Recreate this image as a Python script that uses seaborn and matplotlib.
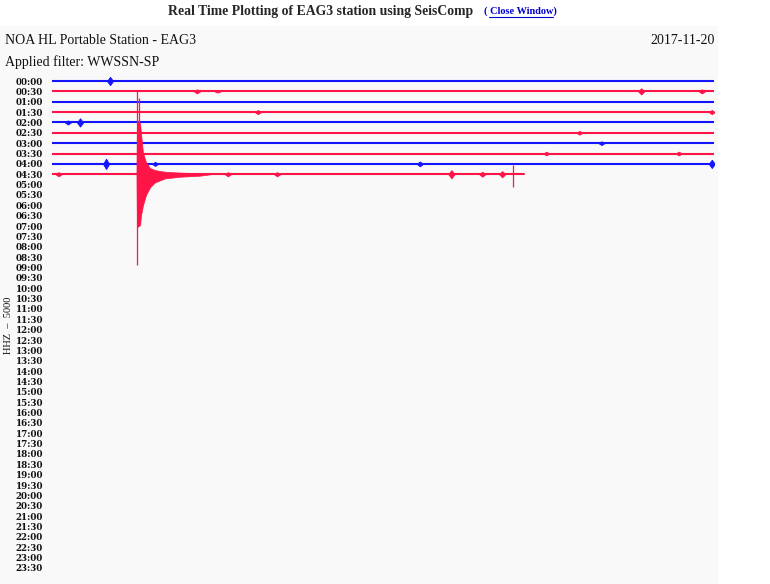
import numpy as np
import pandas as pd
import matplotlib
matplotlib.use("Agg")
import matplotlib.pyplot as plt
from matplotlib.patches import Rectangle
from matplotlib.lines import Line2D
import seaborn as sns

# ---------------- data ----------------
COUNTS_PER_ROW = 5000          # "HHZ - 5000": counts per trace spacing
ROW_MINUTES = 30
row_labels = [f"{h:02d}:{m:02d}" for h in range(24) for m in (0, 30)]

# recorded rows (index into row_labels) with start/end minute of data
trace_rows = [0, 1, 2, 3, 4, 5, 6, 7, 8, 9]
trace_start = [0, 0, 0, 0, 0, 0, 0, 0, 0, 0]
trace_end = [30, 30, 30, 30, 30, 30, 30, 30, 30, 21.4]

# small bursts: row, minute, half amplitude (counts)
burst_row = [0, 1, 1, 1, 1, 3, 3, 4, 4, 5, 6, 7, 7,
             8, 8, 8, 8, 9, 9, 9, 9, 9, 9]
burst_min = [2.63, 6.57, 7.5, 26.7, 29.45, 9.33, 29.9, 0.72, 1.27, 23.9, 24.9, 22.4, 28.4,
             2.45, 4.67, 16.67, 29.9, 0.3, 7.97, 10.2, 18.1, 19.5, 20.4]
burst_amp = [2000, 1000, 600, 1500, 1000, 1000, 1000, 1000, 2000, 900, 900, 900, 900,
             2500, 1000, 1200, 2000, 1000, 1000, 1000, 2000, 1200, 1500]

# main earthquake (row 04:30) envelope
eq_row = 9
eq_min = [3.83, 3.85, 3.99, 4.03, 4.12, 4.26, 4.44, 4.67, 5.12, 5.80, 6.70, 7.2]
eq_up = [0, 26000, 24500, 20000, 10500, 5800, 3000, 2000, 1200, 800, 500, 0]
eq_down = [0, 25600, 24500, 20000, 15000, 10000, 6300, 3900, 2000, 1200, 700, 0]

# thin peak spikes: minute, up counts, down counts, row
spike_min = [3.87, 3.96, 20.9]
spike_up = [40500, 37000, 4500]
spike_down = [44000, 3000, 6000]
spike_row = [9, 9, 9]

# ---------------- style ----------------
BLUE = "#1414ff"
RED = "#ff1447"

sns.set_theme(style="white")
plt.rcParams["font.family"] = ["DejaVu Serif"]

W, H = 770, 584
fig = plt.figure(figsize=(W / 100, H / 100), dpi=100, facecolor="white")

# light panel
fig.patches.append(Rectangle((0, 0), 718 / W, 1 - 26 / H, transform=fig.transFigure,
                             facecolor="#f9f9f9", edgecolor="none", zorder=-10))

row_px = 10.36
top_px = 81 - row_px / 2
bot_px = 81 + 47 * row_px + row_px / 2
ax = fig.add_axes([52 / W, 1 - bot_px / H, 662 / W, (bot_px - top_px) / H])
ax.set_facecolor("none")
ax.set_xlim(0, ROW_MINUTES)
ax.set_ylim(len(row_labels) - 0.5, -0.5)
for s in ax.spines.values():
    s.set_visible(False)

def row_color(r):
    return BLUE if r % 2 == 0 else RED

# baselines through seaborn
recs = []
for r, t0, t1 in zip(trace_rows, trace_start, trace_end):
    recs.append({"minute": t0, "y": r, "row": r})
    recs.append({"minute": t1, "y": r, "row": r})
df = pd.DataFrame(recs)
pal = {r: row_color(r) for r in trace_rows}
sns.lineplot(data=df, x="minute", y="y", hue="row", palette=pal, legend=False,
             estimator=None, sort=False, lw=1.5, ax=ax)

# bursts
bw = 0.14
for r, t, a in zip(burst_row, burst_min, burst_amp):
    d = a / COUNTS_PER_ROW
    ax.fill_between([t - bw, t, t + bw], [r, r - d, r], [r, r + d, r],
                    color=row_color(r), lw=0.6, zorder=3)

# earthquake envelope
eq_t = np.array(eq_min)
ax.fill_between(eq_t, eq_row - np.array(eq_up) / COUNTS_PER_ROW,
                eq_row + np.array(eq_down) / COUNTS_PER_ROW,
                color=RED, lw=0.5, zorder=5, clip_on=False)
for t, u, dn, r in zip(spike_min, spike_up, spike_down, spike_row):
    ax.vlines(t, r - u / COUNTS_PER_ROW, r + dn / COUNTS_PER_ROW, color=RED,
              lw=0.9, zorder=6, clip_on=False)

ax.set_xticks([])
ax.set_yticks(range(len(row_labels)))
ax.set_yticklabels(row_labels, fontsize=6.3, fontweight="bold", color="#111111")
ax.tick_params(axis="y", length=0, pad=6.5)
ax.set_xlabel("")
ax.set_ylabel("")

# texts
fig.text(168 / W, 1 - 11 / H, "Real Time Plotting of EAG3 station using SeisComp",
         family="Liberation Serif", fontsize=9.9, fontweight="bold", va="center", ha="left")
fig.text(484 / W, 1 - 11 / H, "( Close Window)", family="Liberation Serif",
         fontsize=7.4, fontweight="bold", color="#0000cc", va="center", ha="left")
fig.lines.append(Line2D([489 / W, 553 / W], [1 - 16.5 / H, 1 - 16.5 / H],
                        transform=fig.transFigure, color="#0000cc", lw=0.8))
fig.text(5 / W, 1 - 40 / H, "NOA HL Portable Station - EAG3", family="Liberation Serif",
         fontsize=10, va="center", ha="left", color="#111111")
fig.text(715 / W, 1 - 40 / H, "2017-11-20", family="Liberation Serif",
         fontsize=10, va="center", ha="right", color="#111111")
fig.text(5 / W, 1 - 62 / H, "Applied filter: WWSSN-SP", family="Liberation Serif",
         fontsize=10, va="center", ha="left", color="#111111")
fig.text(9 / W, 1 - 325 / H, "HHZ  \u2013  5000", family="Liberation Serif",
         fontsize=7.5, rotation=90, va="center", ha="center", color="#111111")

fig.savefig("out.png", dpi=100, facecolor="white")
